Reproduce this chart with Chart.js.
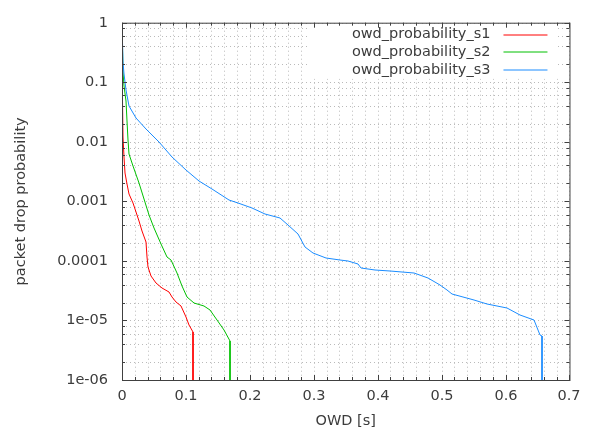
<!DOCTYPE html>
<html>
<head>
<meta charset="utf-8">
<script src="https://cdn.jsdelivr.net/npm/chart.js@4.4.1/dist/chart.umd.min.js"></script>
<style>
  html, body { margin: 0; padding: 0; background: #fff; }
  #wrap { width: 589px; height: 434px; }
</style>
</head>
<body>
<div id="wrap"><canvas id="my-chart" width="589" height="434"></canvas></div>
<script>
// one way delay [s] vs packet drop probability
const s1Owd = [0, 0.0005, 0.001, 0.0025, 0.0047, 0.0072, 0.0114, 0.0165, 0.0218, 0.0269, 0.032, 0.0373,
  0.0398, 0.0414, 0.0451, 0.0529, 0.0631, 0.0736, 0.0787, 0.084, 0.0918, 0.0995, 0.1047, 0.1109, 0.1109];
const s1Prob = [1, 0.2, 0.0119, 0.0056, 0.003, 0.00197, 0.00135, 0.00093, 0.00067, 0.00046, 0.000316, 0.000207,
  0.000118, 8.0e-5, 5.5e-5, 4.27e-5, 3.54e-5, 3.01e-5, 2.43e-5, 2.07e-5, 1.78e-5, 1.15e-5, 8.4e-6, 6.3e-6, 5e-7];

const s2Owd = [0, 0.001, 0.0036, 0.0062, 0.0072, 0.0087, 0.0114, 0.0165, 0.0269, 0.0347, 0.0425, 0.0502,
  0.0607, 0.0709, 0.0762, 0.0865, 0.0942, 0.102, 0.1124, 0.128, 0.1384, 0.1487, 0.159, 0.1695, 0.1695];
const s2Prob = [1, 0.146, 0.087, 0.048, 0.0226, 0.0106, 0.0063, 0.00386, 0.00204, 0.0011, 0.00059, 0.000359,
  0.000192, 0.000116, 0.000102, 6.2e-5, 3.77e-5, 2.43e-5, 1.96e-5, 1.73e-5, 1.47e-5, 1.01e-5, 7.0e-6, 4.5e-6, 5e-7];

const s3Owd = [0, 0.001, 0.0036, 0.0062, 0.0114, 0.0218, 0.0373, 0.058, 0.0782, 0.0995, 0.1202, 0.1404,
  0.167, 0.182, 0.2026, 0.224, 0.247, 0.26, 0.2757, 0.286, 0.299, 0.319, 0.3404, 0.3535, 0.369, 0.3737,
  0.395, 0.42, 0.457, 0.478, 0.498, 0.509, 0.517, 0.5505, 0.571, 0.602, 0.6226, 0.644, 0.6537, 0.6568, 0.6568];
const s3Prob = [1, 0.215, 0.137, 0.075, 0.0396, 0.0252, 0.0161, 0.00987, 0.00562, 0.00333, 0.0022, 0.00163,
  0.00104, 0.00093, 0.00077, 0.000614, 0.000528, 0.000406, 0.000279, 0.000171, 0.000137, 0.000113, 0.000105,
  0.000101, 8.8e-5, 7.5e-5, 7.0e-5, 6.7e-5, 6.2e-5, 5.15e-5, 4.0e-5, 3.3e-5, 2.75e-5, 2.17e-5, 1.89e-5,
  1.61e-5, 1.25e-5, 1.03e-5, 5.8e-6, 5.4e-6, 5e-7];

const seriesLabels = ['owd_probability_s1', 'owd_probability_s2', 'owd_probability_s3'];
const seriesColors = ['#ff0000', '#00c000', '#1a8cff'];

const xTickValues = [0, 0.1, 0.2, 0.3, 0.4, 0.5, 0.6, 0.7];
const xTickLabels = ['0', '0.1', '0.2', '0.3', '0.4', '0.5', '0.6', '0.7'];
const yTickValues = [1e-6, 1e-5, 1e-4, 1e-3, 1e-2, 1e-1, 1];
const yTickLabels = ['1e-06', '1e-05', '0.0001', '0.001', '0.01', '0.1', '1'];

const textColor = '#3c3c3c';
const gridColor = '#bababa';
const fontFamily = '"DejaVu Sans", sans-serif';

function toPoints(xs, ys) {
  return xs.map((x, i) => ({ x: x, y: ys[i] }));
}

function labelFor(values, labels, v) {
  const i = values.findIndex((t) => Math.abs(t - v) < Math.abs(t) * 1e-6 + 1e-12);
  return i >= 0 ? labels[i] : '';
}

// gnuplot-like frame, inward tics and the opaque key
const framePlugin = {
  id: 'frame',
  afterDatasetsDraw(chart) {
    const { ctx, chartArea: a, scales } = chart;
    ctx.save();

    // key
    ctx.fillStyle = '#fff';
    ctx.fillRect(a.left + 186, a.top + 1, 250, 55);
    ctx.font = '14.5px ' + fontFamily;
    ctx.textAlign = 'right';
    ctx.textBaseline = 'middle';
    seriesLabels.forEach((lbl, i) => {
      const yy = a.top + 12 + i * 17.6;
      ctx.fillStyle = textColor;
      ctx.fillText(lbl, a.right - 79, yy);
    });
    seriesLabels.forEach((lbl, i) => {
      const yy = Math.round(a.top + 12 + i * 17.6);
      ctx.strokeStyle = seriesColors[i];
      ctx.lineWidth = 1;
      ctx.beginPath();
      ctx.moveTo(a.right - 66, yy);
      ctx.lineTo(a.right - 22, yy);
      ctx.stroke();
    });

    // tics
    ctx.strokeStyle = '#404040';
    ctx.lineWidth = 1;
    ctx.beginPath();
    scales.x.ticks.forEach((t) => {
      const px = Math.round(scales.x.getPixelForValue(t.value)) + 0.5;
      const len = t.label !== '' ? 5 : 3;
      ctx.moveTo(px, a.bottom);
      ctx.lineTo(px, a.bottom - len);
      ctx.moveTo(px, a.top);
      ctx.lineTo(px, a.top + len);
    });
    scales.y.ticks.forEach((t) => {
      const py = Math.round(scales.y.getPixelForValue(t.value)) + 0.5;
      const len = t.label !== '' ? 5 : 3;
      ctx.moveTo(a.left, py);
      ctx.lineTo(a.left + len, py);
      ctx.moveTo(a.right, py);
      ctx.lineTo(a.right - len, py);
    });
    ctx.stroke();

    // border
    ctx.strokeRect(a.left + 0.5, a.top + 0.5, a.right - a.left, a.bottom - a.top);
    ctx.restore();
  },
};

const ctx = document.getElementById('my-chart').getContext('2d');
new Chart(ctx, {
  type: 'line',
  data: {
    datasets: [
      { label: seriesLabels[0], data: toPoints(s1Owd, s1Prob), borderColor: seriesColors[0], order: 3 },
      { label: seriesLabels[1], data: toPoints(s2Owd, s2Prob), borderColor: seriesColors[1], order: 2 },
      { label: seriesLabels[2], data: toPoints(s3Owd, s3Prob), borderColor: seriesColors[2], order: 1 },
    ],
  },
  options: {
    responsive: false,
    animation: false,
    devicePixelRatio: 1,
    layout: { padding: { left: 0, right: 17, top: 12, bottom: 0 } },
    elements: {
      line: { borderWidth: 1, tension: 0, fill: false },
      point: { radius: 0, hoverRadius: 0 },
    },
    plugins: {
      legend: { display: false },
      tooltip: { enabled: false },
    },
    scales: {
      x: {
        type: 'linear',
        min: 0,
        max: 0.7,
        alignToPixels: true,
        afterFit: (scale) => { scale.height = 54; },
        afterBuildTicks: (scale) => {
          const ticks = [];
          for (let i = 0; i <= 35; i++) ticks.push({ value: i * 0.02 });
          scale.ticks = ticks;
        },
        ticks: {
          autoSkip: false,
          maxRotation: 0,
          padding: 8,
          color: textColor,
          font: { family: fontFamily, size: 14.5 },
          callback: (v) => labelFor(xTickValues, xTickLabels, v),
        },
        grid: { color: gridColor, lineWidth: 1, drawTicks: false },
        border: { display: false, dash: [1, 3] },
        title: {
          display: true,
          text: 'OWD [s]',
          color: textColor,
          font: { family: fontFamily, size: 14.5 },
          padding: { top: 0, bottom: 4 },
        },
      },
      y: {
        type: 'logarithmic',
        min: 1e-6,
        max: 1,
        alignToPixels: true,
        afterFit: (scale) => { scale.width = 122; },
        afterBuildTicks: (scale) => {
          const ticks = [];
          for (let e = -6; e <= 0; e++) {
            ticks.push({ value: Math.pow(10, e) });
            if (e < 0) [2, 4, 6, 8].forEach((m) => ticks.push({ value: m * Math.pow(10, e) }));
          }
          ticks.sort((p, q) => p.value - q.value);
          scale.ticks = ticks;
        },
        ticks: {
          autoSkip: false,
          padding: 14,
          color: textColor,
          font: { family: fontFamily, size: 14.5 },
          callback: (v) => labelFor(yTickValues, yTickLabels, v),
        },
        grid: { color: gridColor, lineWidth: 1, drawTicks: false },
        border: { display: false, dash: [1, 3] },
        title: {
          display: true,
          text: 'packet drop probability',
          color: textColor,
          font: { family: fontFamily, size: 14.5 },
          padding: { top: 13, bottom: 0 },
        },
      },
    },
  },
  plugins: [framePlugin],
});
</script>
</body>
</html>
